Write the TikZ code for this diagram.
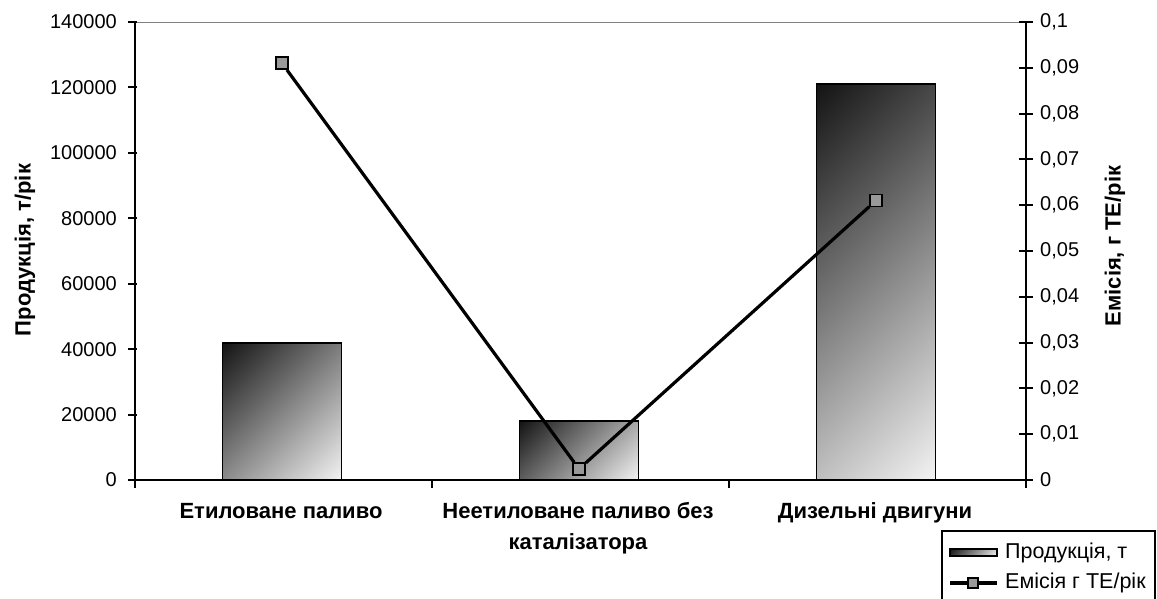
\documentclass[tikz,border=0pt]{standalone}
\usepackage{fontspec}
\setmainfont{Liberation Sans}
\usepackage{tikz}

\pgfdeclareverticalshading{barshade}{100bp}{color(0bp)=(white!97!black); color(14bp)=(white!96!black); color(86bp)=(black!93); color(100bp)=(black!93)}

\begin{document}
\begin{tikzpicture}[x=1pt, y=1pt,
        axis/.style={line width=1.9pt},
        ticklabel/.style={inner sep=0pt, font=\fontsize{20}{24}\selectfont},
        legendlabel/.style={inner sep=0pt, anchor=west, font=\fontsize{21.5}{24}\selectfont},
        catlabel/.style={inner sep=0pt, anchor=base, align=center, font=\bfseries\fontsize{22}{31}\selectfont},
        axistitle/.style={inner sep=0pt, rotate=90, font=\bfseries\fontsize{22}{24}\selectfont},
        bar/.style={draw=black, line width=1.8pt, shade, shading=barshade, shading angle=45},
        marker/.style={draw=black, line width=1.5pt, fill=black!40, minimum size=12pt, inner sep=0pt},
        series/.style={line width=3.2pt}]

        \useasboundingbox (0,0) rectangle (1157,598);

        % Defining the bars (production)
        \draw[bar] (222.5,118) rectangle (341.5,255);
        \draw[bar] (519.5,118) rectangle (638.5,177);
        \draw[bar] (816.5,118) rectangle (935.5,514);

        % Defining the axes
        \draw[gray, line width=0.8pt] (135,576) -- (1026,576);
        \draw[axis] (135,110) -- (135,576);
        \draw[axis] (1026,110) -- (1026,576);
        \draw[axis] (135,118) -- (1026,118);
        \draw[axis] (432,118) -- (432,110);
        \draw[axis] (729,118) -- (729,110);

        % Left ticks
        \draw[axis] (128,118) -- (137,118);
        \draw[axis] (128,183.43) -- (137,183.43);
        \draw[axis] (128,248.86) -- (137,248.86);
        \draw[axis] (128,314.29) -- (137,314.29);
        \draw[axis] (128,379.71) -- (137,379.71);
        \draw[axis] (128,445.14) -- (137,445.14);
        \draw[axis] (128,510.57) -- (137,510.57);
        \draw[axis] (128,576) -- (137,576);
        \node[ticklabel, anchor=east] (l0) at (117,118) {0};
        \node[ticklabel, anchor=east] (l1) at (117,183.43) {20000};
        \node[ticklabel, anchor=east] (l2) at (117,248.86) {40000};
        \node[ticklabel, anchor=east] (l3) at (117,314.29) {60000};
        \node[ticklabel, anchor=east] (l4) at (117,379.71) {80000};
        \node[ticklabel, anchor=east] (l5) at (117,445.14) {100000};
        \node[ticklabel, anchor=east] (l6) at (117,510.57) {120000};
        \node[ticklabel, anchor=east] (l7) at (117,576) {140000};

        % Right ticks
        \draw[axis] (1019,118) -- (1033,118);
        \draw[axis] (1019,163.8) -- (1033,163.8);
        \draw[axis] (1019,209.6) -- (1033,209.6);
        \draw[axis] (1019,255.4) -- (1033,255.4);
        \draw[axis] (1019,301.2) -- (1033,301.2);
        \draw[axis] (1019,347) -- (1033,347);
        \draw[axis] (1019,392.8) -- (1033,392.8);
        \draw[axis] (1019,438.6) -- (1033,438.6);
        \draw[axis] (1019,484.4) -- (1033,484.4);
        \draw[axis] (1019,530.2) -- (1033,530.2);
        \draw[axis] (1019,576) -- (1033,576);
        \node[ticklabel, anchor=west] (r0) at (1040,118) {0};
        \node[ticklabel, anchor=west] (r1) at (1040,163.8) {0,01};
        \node[ticklabel, anchor=west] (r2) at (1040,209.6) {0,02};
        \node[ticklabel, anchor=west] (r3) at (1040,255.4) {0,03};
        \node[ticklabel, anchor=west] (r4) at (1040,301.2) {0,04};
        \node[ticklabel, anchor=west] (r5) at (1040,347) {0,05};
        \node[ticklabel, anchor=west] (r6) at (1040,392.8) {0,06};
        \node[ticklabel, anchor=west] (r7) at (1040,438.6) {0,07};
        \node[ticklabel, anchor=west] (r8) at (1040,484.4) {0,08};
        \node[ticklabel, anchor=west] (r9) at (1040,530.2) {0,09};
        \node[ticklabel, anchor=west] (r10) at (1040,576) {0,1};

        % Axis titles and categories
        \node[axistitle] (ytitle) at (25,348) {Продукція, т/рік};
        \node[axistitle] (y2title) at (1115,352) {Емісія, г ТЕ/рік};
        \node[catlabel] (cat1) at (281,80) {Етиловане паливо};
        \node[catlabel] (cat2) at (578,49) {Неетиловане паливо без\\каталізатора};
        \node[catlabel] (cat3) at (875,80) {Дизельні двигуни};

        % Emission series
        \node[marker] (p1) at (282,534.8) {};
        \node[marker] (p2) at (579,129) {};
        \node[marker] (p3) at (876,397.4) {};
        \draw[series] (p1) -- (p2) -- (p3);

        % Legend
        \draw[line width=1.5pt] (942,67) rectangle (1155,-5);
        \draw[bar, line width=1.2pt] (950,42) rectangle (997,49);
        \node[legendlabel] (leg1) at (1005,45) {Продукція, т};
        \node[marker, minimum size=10pt] (legm) at (973,15) {};
        \coordinate (lega) at (950,15);
        \coordinate (legb) at (997,15);
        \draw[series] (lega) -- (legm) -- (legb);
        \node[legendlabel] (leg2) at (1005,15) {Емісія г ТЕ/рік};

    \end{tikzpicture}
\end{document}
